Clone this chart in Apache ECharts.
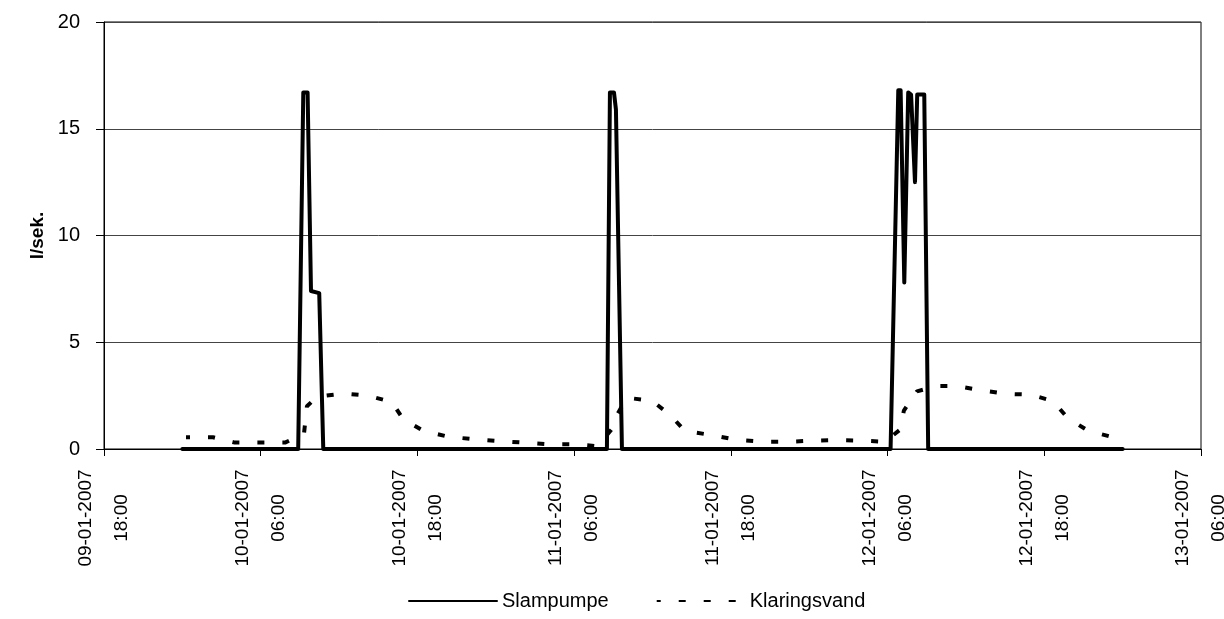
<!DOCTYPE html>
<html>
<head>
<meta charset="utf-8">
<script src="https://cdn.jsdelivr.net/npm/echarts@6/dist/echarts.min.js"></script>
<style>html,body{margin:0;padding:0;background:#fff;}#c{width:1224px;height:619px;}</style>
</head>
<body>
<div id="c"></div>
<script>
// x values: hours since 10-01-2007 00:00
const tickLabels = ['09-01-2007\n18:00','10-01-2007\n06:00','10-01-2007\n18:00','11-01-2007\n06:00',
                    '11-01-2007\n18:00','12-01-2007\n06:00','12-01-2007\n18:00','13-01-2007\n06:00'];
const axisStartOffset = 6; // 09-01-2007 18:00 is 6 h before 10-01-2007 00:00

const slamHours = [0, 8.87, 9.26, 9.59, 9.85, 10.48, 10.79,
                   32.51, 32.74, 33.05, 33.2, 33.66,
                   54.23, 54.82, 55.0, 55.28, 55.58, 55.8, 56.1, 56.27, 56.81, 57.11, 72];
const slamValues = [0, 0, 16.7, 16.7, 7.4, 7.3, 0,
                    0, 16.7, 16.7, 15.9, 0,
                    0, 16.8, 16.8, 7.8, 16.7, 16.6, 12.5, 16.6, 16.6, 0, 0];

const klarHours = [0.28, 2.34, 4.03, 5.94, 7.86, 9.31, 9.54, 10.31, 12.3, 14.21, 16.05, 16.9, 18.43, 20.34, 22.4,
                   24.24, 26.16, 28.15, 30.06, 31.82, 32.97, 33.28, 34.04, 35.96, 37.34, 38.49, 40.55, 42.54, 44.46,
                   46.37, 48.29, 50.2, 52.04, 53.8, 54.95, 55.25, 56.25, 57.78, 59.31, 61.07, 63.14, 64.9, 66.66,
                   67.81, 69.34, 71.26];
const klarValues = [0.55, 0.55, 0.3, 0.3, 0.3, 0.7, 2.0, 2.45, 2.6, 2.5, 2.2, 1.4, 0.86, 0.58, 0.45,
                    0.37, 0.3, 0.22, 0.22, 0.13, 1.0, 1.6, 2.4, 2.26, 1.6, 0.84, 0.65, 0.42, 0.34,
                    0.34, 0.39, 0.42, 0.39, 0.34, 0.9, 1.8, 2.7, 2.95, 2.95, 2.76, 2.58, 2.55, 2.25,
                    1.44, 0.86, 0.55];

const pairs = (hs, vs) => hs.map((h, i) => [h + axisStartOffset, vs[i]]);
const FONT = 'Liberation Sans, Arial, sans-serif';

const chart = echarts.init(document.getElementById('c'), null, {renderer: 'canvas'});
chart.setOption({
  animation: false,
  backgroundColor: '#fff',
  grid: {left: 104, right: 23, top: 22, bottom: 170, show: true, borderColor: '#000', borderWidth: 1,
         containLabel: false, outerBoundsMode: 'none'},
  legend: {
    left: 403, top: 586, itemGap: 47, itemWidth: 88, itemHeight: 20,
    textStyle: {fontFamily: FONT, fontSize: 20, color: '#000'},
    itemStyle: {opacity: 0},
    data: ['Slampumpe', 'Klaringsvand']
  },
  xAxis: {
    type: 'value', min: 0, max: 84, interval: 12,
    axisLine: {lineStyle: {color: '#000', width: 1}},
    axisTick: {show: true, length: 7, lineStyle: {color: '#000'}},
    splitLine: {show: false},
    axisLabel: {
      rotate: 90, align: 'center', verticalAlign: 'middle', margin: 69,
      fontFamily: FONT, fontSize: 19, color: '#000', lineHeight: 36,
      formatter: v => tickLabels[Math.round(v / 12)] || ''
    }
  },
  yAxis: {
    type: 'value', min: 0, max: 20, interval: 5,
    name: 'l/sek.', nameLocation: 'middle', nameRotate: 90, nameGap: 50,
    nameTextStyle: {fontFamily: FONT, fontSize: 19, fontWeight: 'bold', color: '#000'},
    axisLine: {show: true, lineStyle: {color: '#000', width: 1}},
    axisTick: {show: true, length: 8, lineStyle: {color: '#000'}},
    splitLine: {show: true, lineStyle: {color: '#444', width: 1}},
    axisLabel: {fontFamily: FONT, fontSize: 20, color: '#000', margin: 24}
  },
  series: [
    {
      name: 'Slampumpe', type: 'line', symbol: 'none', z: 3,
      data: pairs(slamHours, slamValues),
      lineStyle: {color: '#000', width: 4, join: 'round', cap: 'round'},
      itemStyle: {color: '#000', opacity: 0}
    },
    {
      name: 'Klaringsvand', type: 'line', symbol: 'none', z: 2,
      data: pairs(klarHours, klarValues),
      lineStyle: {color: '#000', width: 4, type: [7, 18], dashOffset: 3},
      itemStyle: {color: '#000', opacity: 0}
    }
  ]
});
</script>
</body>
</html>
